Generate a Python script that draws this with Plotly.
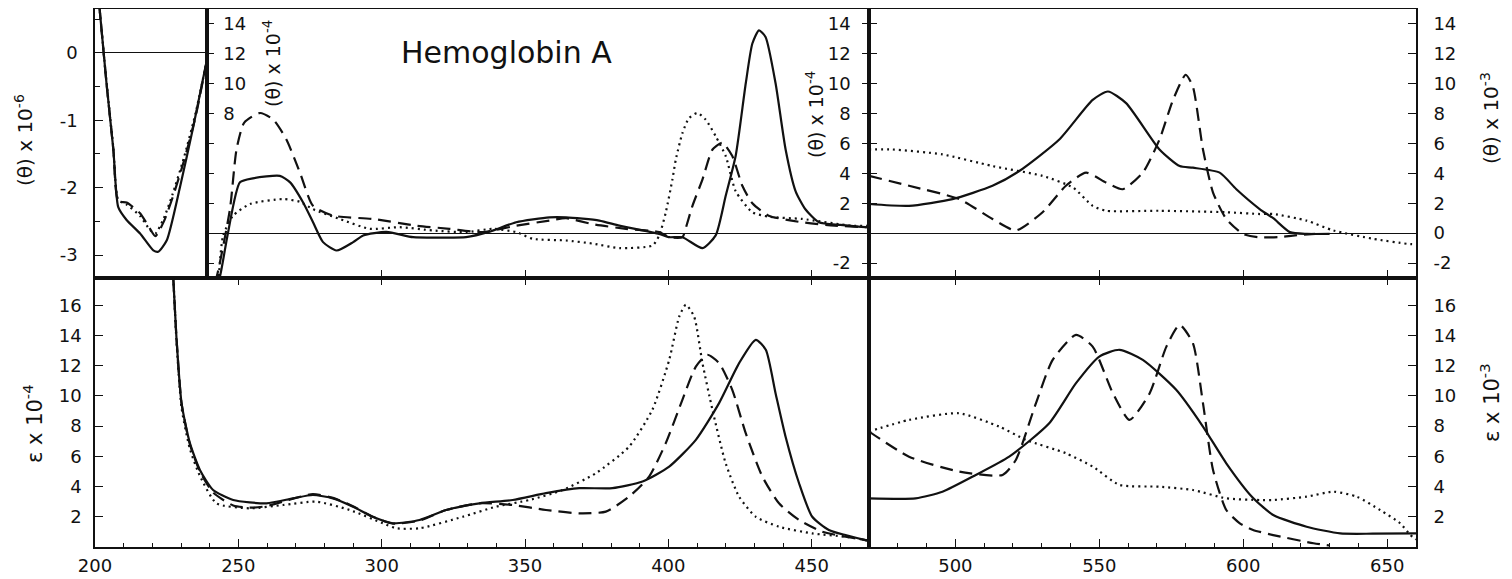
import plotly.graph_objects as go

# ---------------- data ----------------
# Top-left panel: (theta) x 10^-6, 200-239 nm
tl_x_solid = [201.5, 204, 206.4, 208.1, 211, 215.7, 220.3, 222, 225, 229.6, 234.2, 239]
tl_y_solid = [0.7, -0.45, -1.44, -2.29, -2.48, -2.68, -2.93, -2.95, -2.78, -1.99, -1.1, -0.1]
tl_x_dash = [201.5, 204, 206.4, 208.1, 211, 215.7, 219, 221, 224, 227, 231, 235, 239]
tl_y_dash = [0.7, -0.45, -1.44, -2.2, -2.22, -2.38, -2.6, -2.72, -2.5, -2.15, -1.6, -0.95, -0.1]
tl_x_dot = [201.5, 204, 206.4, 208.1, 211, 215.7, 219, 221, 224, 227, 231, 235, 239]
tl_y_dot = [0.7, -0.43, -1.42, -2.18, -2.25, -2.42, -2.62, -2.68, -2.45, -2.1, -1.55, -0.9, -0.1]

# Top-middle panel: (theta) x 10^-4, 239-470 nm
tm_x_solid = [242.5, 243.5, 246.3, 250.5, 255, 264.4, 268, 272.5, 276, 279.5, 284.2, 290, 293.5,
              301.6, 310.9, 320, 329.4, 337.6, 346.9, 358.5, 364.3, 375.9, 382.9, 396.8, 400.3,
              404.9, 411.9, 416.5, 420, 423.5, 427, 429.3, 431.6, 433.9, 437.4, 440.9, 444.4,
              447.8, 452.5, 460, 468.8, 470]
tm_y_solid = [-3.3, -2.9, 0.0, 3.4, 3.67, 3.83, 3.4, 2.07, 0.73, -0.6, -1.16, -0.6, -0.15,
              0.08, -0.27, -0.3, -0.27, 0.1, 0.73, 1.06, 1.06, 0.84, 0.5, -0.05, -0.27,
              -0.27, -1.0, -0.15, 2.5, 5.2, 10.03, 12.69, 13.57, 13.13, 10.03, 5.6, 2.8,
              1.6, 0.73, 0.55, 0.4, 0.4]
tm_x_dash = [241.5, 242.4, 247, 249.3, 252, 257.5, 262.1, 266.7, 271.4, 276, 283, 297,
             312, 323.6, 335.2, 346.9, 358.5, 364.3, 373.6, 385.2, 396.8, 400.3, 404.9, 406,
             408.4, 411.9, 415.4, 418.8, 422.3, 425.8, 429.3, 435, 446.6, 458, 470]
tm_y_dash = [-3.3, -2.9, 1.6, 5.6, 7.4, 8.04, 7.6, 6.27, 4.07, 1.83, 1.17, 0.95,
             0.5, 0.29, 0.07, 0.5, 0.84, 1.0, 0.6, 0.29, 0.07, -0.27, -0.27, 0.3,
             1.83, 3.6, 5.6, 6.05, 5.16, 3.17, 2.0, 1.17, 0.73, 0.5, 0.4]
tm_x_dot = [243, 244.6, 248, 254, 265.5, 271.4, 276, 285.3, 295.8, 306.2, 317.8, 329.4,
            338.7, 346.9, 352.7, 364.3, 373.6, 383, 394.5, 396.8, 399.1, 401.4, 402.6,
            404.9, 407.2, 410.1, 413, 416.5, 420, 423.5, 429.3, 435, 446.7, 464, 470]
tm_y_dot = [-3.3, -0.2, 1.15, 1.95, 2.28, 2.1, 1.6, 0.95, 0.29, 0.4, 0.18, 0.07,
            0.29, 0.07, -0.38, -0.49, -0.7, -1.0, -0.82, -0.15, 1.4, 3.6, 4.94,
            6.7, 7.7, 8.04, 7.6, 6.49, 5.16, 2.8, 1.4, 1.1, 0.95, 0.5, 0.5]

# Top-right panel: (theta) x 10^-3, 470-660 nm
tr_x_solid = [470, 483.9, 499, 512.9, 522.2, 536.1, 547.7, 553, 559.3, 570.9, 577.9, 582.5,
              591.8, 597.6, 605.8, 610.4, 616.2, 622, 630]
tr_y_solid = [1.95, 1.83, 2.28, 3.17, 4.16, 6.27, 8.92, 9.48, 8.7, 5.6, 4.49, 4.38,
              4.05, 2.94, 1.6, 1.0, 0.07, -0.05, -0.05]
tr_x_dash = [470, 483.9, 501.3, 512.9, 521, 530.3, 538.4, 545.4, 552.3, 558.1, 565.1, 570.9,
             575.6, 580, 582.5, 586, 589.5, 594.1, 599.9, 605, 612, 618, 625]
tr_y_dash = [3.83, 3.17, 2.28, 0.95, 0.18, 1.4, 3.17, 4.05, 3.39, 2.94, 4.05, 6.27,
             8.92, 10.6, 9.8, 5.6, 2.72, 0.95, -0.05, -0.27, -0.27, -0.15, -0.05]
tr_x_dot = [470, 478.1, 495.5, 512.9, 530.3, 540.8, 547.7, 552.3, 570.9, 594.1, 605.8, 610.4,
            622, 631.3, 645.2, 656.8, 660]
tr_y_dot = [5.6, 5.6, 5.27, 4.49, 3.83, 3.06, 1.83, 1.5, 1.5, 1.4, 1.28, 1.28,
            0.84, 0.18, -0.38, -0.71, -0.75]

# Bottom-left panel: epsilon x 10^-4, 200-470 nm
bl_x_solid = [226.8, 227.3, 228.4, 230.2, 233.1, 236.6, 241.2, 248.2, 259.8, 269.1, 276, 283,
              290, 296.9, 303.9, 313.2, 322.5, 334.1, 345.7, 357.3, 368.9, 380.5, 391, 400.3,
              409.6, 417.7, 424.7, 430.5, 434, 437.4, 440.9, 445.6, 450.2, 456, 461.8, 468.8, 470]
bl_y_solid = [19, 17.8, 13.9, 9.5, 6.87, 5.1, 3.77, 3.11, 2.89, 3.22, 3.44, 3.22,
              2.67, 2.0, 1.57, 1.79, 2.45, 2.89, 3.11, 3.56, 3.89, 3.89, 4.33, 5.32,
              7.09, 9.52, 12.17, 13.71, 13.05, 10.18, 7.3, 4.22, 2.0, 1.13, 0.79, 0.46, 0.42]
bl_x_dash = [226.8, 227.3, 228.4, 230.2, 233.1, 236.6, 241.2, 248.2, 254, 259.8, 269.1, 276,
             283, 290, 296.9, 303.9, 313.2, 322.5, 334.1, 345.7, 357.3, 368.9, 378.2, 386.3,
             393.3, 399.1, 404.9, 409.6, 413.6, 417.7, 422.3, 427, 432.8, 438.6, 445.6, 453.7,
             461.8, 468.8, 470]
bl_y_dash = [19, 17.8, 13.9, 9.5, 6.8, 5.0, 3.6, 2.75, 2.6, 2.7, 3.2, 3.5,
             3.25, 2.7, 2.0, 1.55, 1.75, 2.45, 2.89, 2.78, 2.45, 2.23, 2.34, 3.33,
             4.66, 6.87, 9.74, 11.94, 12.72, 12.17, 10.4, 7.53, 4.66, 2.89, 1.79, 1.01,
             0.68, 0.46, 0.42]
bl_x_dot = [226.8, 227.3, 228.4, 230.2, 233.1, 236.6, 242.4, 254, 265.6, 277.2, 288.8, 300.4,
            305.1, 313.2, 328.3, 339.9, 351.5, 363.1, 374.7, 386.3, 394.4, 400.3, 403.8, 406.1,
            409, 411.9, 415.4, 420, 424.7, 430.5, 438.6, 450.2, 461.8, 468.8, 470]
bl_y_dot = [19, 17.8, 13.7, 9.2, 6.5, 4.7, 2.89, 2.56, 2.78, 3.0, 2.45, 1.57,
            1.24, 1.24, 2.0, 2.67, 3.11, 3.77, 4.88, 6.64, 9.07, 12.38, 15.25, 16.03,
            15.25, 12.17, 9.07, 5.54, 3.33, 2.0, 1.34, 0.9, 0.68, 0.46, 0.42]

# Bottom-right panel: epsilon x 10^-3, 470-660 nm
br_x_solid = [470, 486.2, 495.5, 507.1, 518.7, 532.6, 541.9, 550, 557, 565.1, 576.7, 586,
              594.1, 603, 610.4, 622, 633.7, 645, 660]
br_y_solid = [3.22, 3.22, 3.66, 4.77, 5.98, 8.19, 10.84, 12.6, 13.05, 12.38, 10.4, 7.97,
              5.54, 3.33, 2.12, 1.34, 0.9, 0.88, 0.9]
br_x_dash = [470, 483.9, 501.3, 516.4, 521, 528, 533.8, 541.9, 547.7, 554.7, 560.5, 567.5,
             573.3, 577.9, 582.5, 586, 589.5, 594.1, 598.8, 603.4, 610.4, 624.4, 630]
br_y_dash = [7.64, 5.98, 4.99, 4.77, 5.76, 9.52, 12.38, 14.04, 13.26, 10.18, 8.41, 10.18,
             13.26, 14.7, 13.49, 9.52, 5.1, 2.45, 1.57, 1.13, 0.79, 0.25, 0.1]
br_x_dot = [470, 483.9, 501.3, 515.2, 524.5, 538.4, 547.7, 557, 570.9, 582.5, 594.1, 605.8,
            610.4, 622, 631.3, 639.4, 647.5, 654.5, 658, 660]
br_y_dot = [7.64, 8.41, 8.85, 7.97, 7.09, 6.2, 5.32, 4.11, 3.99, 3.77, 3.22, 3.11,
            3.11, 3.33, 3.66, 3.33, 2.45, 1.57, 0.8, 0.5]

# tick values / labels
x_major_left = [200, 250, 300, 350, 400, 450]
x_major_right = [500, 550, 600, 650]
tl_ticks = [0, -1, -2, -3]
tl_labels = ["0", "-1", "-2", "-3"]
tm_left_ticks = [8, 10, 12, 14]
tm_left_minor = [-2, 0, 2, 4, 6]
tm_right_ticks = [-2, 2, 4, 6, 8, 10, 12, 14]
tm_right_labels = ["-2", "2", "4", "6", "8", "10", "12", "14"]
tr_ticks = [-2, 0, 2, 4, 6, 8, 10, 12, 14]
tr_labels = ["-2", "0", "2", "4", "6", "8", "10", "12", "14"]
bot_ticks = [2, 4, 6, 8, 10, 12, 14, 16]

# ---------------- layout helpers ----------------
OFF = 8
W, H = 1512 - OFF, 579 - OFF
def fx(px):
    return (px - OFF) / W
def fy(py):
    return 1 - (py - OFF) / H

X0, X1, X2, X3 = 95, 207, 869, 1416
Y0, Y1, Y2 = 9, 278, 547

INK = "#111111"
FONT = "DejaVu Sans"
LW = 2.2
DASH = "13px,7px"
DOT = "2px,4px"

fig = go.Figure()

def add(xs, ys, xa, ya, dash, name):
    fig.add_trace(go.Scatter(
        x=xs, y=ys, xaxis=xa, yaxis=ya, mode="lines", name=name,
        line=dict(color=INK, width=LW, dash=dash, shape="spline", smoothing=0.6),
        hoverinfo="skip", showlegend=False, cliponaxis=True))

add(tl_x_dot, tl_y_dot, "x", "y", DOT, "dotted")
add(tl_x_dash, tl_y_dash, "x", "y", DASH, "dashed")
add(tl_x_solid, tl_y_solid, "x", "y", "solid", "solid")
add(tm_x_dot, tm_y_dot, "x2", "y2", DOT, "dotted")
add(tm_x_dash, tm_y_dash, "x2", "y2", DASH, "dashed")
add(tm_x_solid, tm_y_solid, "x2", "y2", "solid", "solid")
add(tr_x_dot, tr_y_dot, "x3", "y4", DOT, "dotted")
add(tr_x_dash, tr_y_dash, "x3", "y4", DASH, "dashed")
add(tr_x_solid, tr_y_solid, "x3", "y4", "solid", "solid")
add(bl_x_dot, bl_y_dot, "x4", "y5", DOT, "dotted")
add(bl_x_dash, bl_y_dash, "x4", "y5", DASH, "dashed")
add(bl_x_solid, bl_y_solid, "x4", "y5", "solid", "solid")
add(br_x_dot, br_y_dot, "x5", "y6", DOT, "dotted")
add(br_x_dash, br_y_dash, "x5", "y6", DASH, "dashed")
add(br_x_solid, br_y_solid, "x5", "y6", "solid", "solid")

# empty traces so overlay axes are drawn
for xa, ya in [("x2", "y3"), ("x6", "y5"), ("x7", "y6")]:
    fig.add_trace(go.Scatter(x=[], y=[], xaxis=xa, yaxis=ya, mode="lines",
                             showlegend=False, hoverinfo="skip"))

tickfont = dict(family=FONT, size=18, color=INK)
base = dict(showgrid=False, zeroline=False, linecolor=INK, linewidth=1.6,
            tickcolor=INK, tickwidth=1.4, tickfont=tickfont, fixedrange=True,
            automargin=False)

top_dom = [fy(Y1), fy(Y0)]
bot_dom = [fy(Y2), fy(Y1)]

fig.update_layout(
    width=W, height=H, autosize=False,
    margin=dict(l=0, r=0, t=0, b=0, autoexpand=False),
    paper_bgcolor="white", plot_bgcolor="white",
    showlegend=False,
    # top-left small panel
    xaxis=dict(base, domain=[fx(X0), fx(X1)], anchor="y", range=[200, 239],
               showline=True, mirror=True, ticks="", showticklabels=False),
    yaxis=dict(base, domain=top_dom, anchor="x", range=[-3.34, 0.65],
               showline=True, mirror=True, tickvals=tl_ticks, ticktext=tl_labels,
               ticks="inside", ticklen=8, ticklabelposition="outside", ticklabelstandoff=12,
               minor=dict(dtick=0.5, tick0=0, ticks="inside", ticklen=5, tickcolor=INK),
               zeroline=True, zerolinecolor=INK, zerolinewidth=1.4),
    # top-middle panel
    xaxis2=dict(base, domain=[fx(X1), fx(X2)], anchor="y2", range=[239, 470],
                showline=True, mirror=True, tickvals=x_major_left[1:], ticks="inside",
                ticklen=8, showticklabels=False),
    yaxis2=dict(base, domain=top_dom, anchor="x2", range=[-3, 15],
                showline=True, mirror=True, tickvals=tm_left_ticks,
                ticks="inside", ticklen=7, ticklabelposition="inside", ticklabelstandoff=10,
                minor=dict(tickmode="array", tickvals=tm_left_minor, ticks="inside",
                           ticklen=7, tickcolor=INK, tickwidth=1.4),
                zeroline=True, zerolinecolor=INK, zerolinewidth=1.4),
    yaxis3=dict(base, overlaying="y2", side="right", anchor="x2", range=[-3, 15],
                showline=False, tickvals=tm_right_ticks, ticktext=tm_right_labels,
                ticks="inside", ticklen=7, ticklabelposition="inside", ticklabelstandoff=12,
                minor=dict(tickmode="array", tickvals=[0], ticks="inside",
                           ticklen=7, tickcolor=INK, tickwidth=1.4)),
    # top-right panel
    xaxis3=dict(base, domain=[fx(X2), fx(X3)], anchor="y4", range=[470, 660],
                showline=True, mirror=True, tickvals=x_major_right, ticks="inside",
                ticklen=8, showticklabels=False),
    yaxis4=dict(base, domain=top_dom, anchor="x3", side="right", range=[-3, 15],
                showline=True, mirror="ticks", tickvals=tr_ticks, ticktext=tr_labels,
                ticks="inside", ticklen=8, ticklabelstandoff=12,
                zeroline=True, zerolinecolor=INK, zerolinewidth=1.4),
    # bottom-left panel
    xaxis4=dict(base, domain=[fx(X0), fx(X2)], anchor="y5", range=[200, 470],
                showline=True, mirror=True, tickvals=x_major_left, ticks="inside",
                ticklen=8, ticklabelstandoff=2,
                minor=dict(dtick=10, tick0=200, ticks="inside", ticklen=4, tickcolor=INK)),
    xaxis6=dict(base, overlaying="x4", side="top", anchor="y5", range=[200, 470],
                showline=False, tickvals=x_major_left[1:], ticks="inside", ticklen=7,
                showticklabels=False),
    yaxis5=dict(base, domain=bot_dom, anchor="x4", range=[0, 17.8],
                showline=True, mirror=True, tickvals=bot_ticks, ticks="inside", ticklen=8,
                ticklabelstandoff=8),
    # bottom-right panel
    xaxis5=dict(base, domain=[fx(X2), fx(X3)], anchor="y6", range=[470, 660],
                showline=True, mirror=True, tickvals=x_major_right, ticks="inside",
                ticklen=8, ticklabelstandoff=2,
                minor=dict(dtick=10, tick0=470, ticks="inside", ticklen=4, tickcolor=INK)),
    xaxis7=dict(base, overlaying="x5", side="top", anchor="y6", range=[470, 660],
                showline=False, tickvals=x_major_right, ticks="inside", ticklen=7,
                showticklabels=False),
    yaxis6=dict(base, domain=bot_dom, anchor="x5", side="right", range=[0, 17.8],
                showline=True, mirror=True, tickvals=bot_ticks, ticks="inside", ticklen=8,
                ticklabelstandoff=12),
)

def ann(text, px, py, angle=-90, size=20):
    fig.add_annotation(text=text, x=fx(px), y=fy(py), xref="paper", yref="paper",
                       showarrow=False, textangle=angle,
                       font=dict(family=FONT, size=size, color=INK),
                       xanchor="center", yanchor="middle")

ann("(θ) x 10<sup>-6</sup>", 24, 140)
ann("ε x 10<sup>-4</sup>", 33, 424, size=21)
ann("(θ) x 10<sup>-4</sup>", 272, 64, size=19)
ann("(θ) x 10<sup>-4</sup>", 815, 115, size=19)
ann("(θ) x 10<sup>-3</sup>", 1490, 118)
ann("ε x 10<sup>-3</sup>", 1490, 403, size=21)
ann("Hemoglobin A", 506, 53, angle=0, size=30)

fig.write_html("out.html")
